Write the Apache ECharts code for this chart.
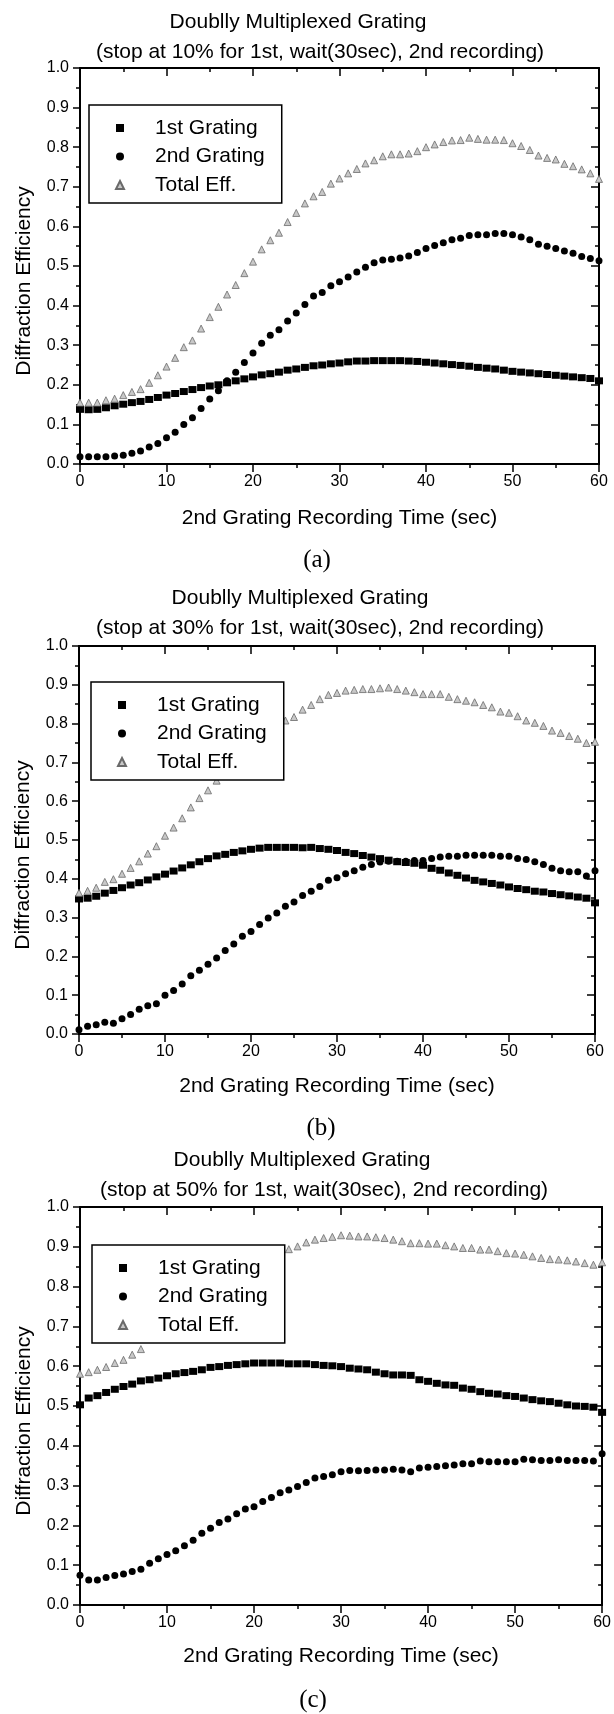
<!DOCTYPE html>
<html><head><meta charset="utf-8">
<script src="https://cdn.jsdelivr.net/npm/echarts@6/dist/echarts.min.js"></script>
<style>html,body{margin:0;padding:0;background:#fff}#c{width:614px;height:1714px}</style>
</head><body><div id="c"></div>
<script>
const timesSec = [0,1,2,3,4,5,6,7,8,9,10,11,12,13,14,15,16,17,18,19,20,21,22,23,24,25,26,27,28,29,30,
  31,32,33,34,35,36,37,38,39,40,41,42,43,44,45,46,47,48,49,50,51,52,53,54,55,56,57,58,59,60];
const seriesNames = ['1st Grating', '2nd Grating', 'Total Eff.'];
const yTickLabels = ['0.0','0.1','0.2','0.3','0.4','0.5','0.6','0.7','0.8','0.9','1.0'];

// (a) stop at 10%
const a1st = [0.138,0.137,0.138,0.142,0.147,0.151,0.155,0.158,0.163,0.168,
  0.174,0.178,0.183,0.188,0.193,0.197,0.200,0.205,0.210,0.215,
  0.220,0.225,0.228,0.232,0.237,0.240,0.244,0.248,0.250,0.253,
  0.255,0.258,0.260,0.260,0.261,0.261,0.261,0.261,0.260,0.259,
  0.257,0.255,0.253,0.251,0.249,0.247,0.244,0.242,0.240,0.237,
  0.234,0.232,0.230,0.228,0.226,0.224,0.222,0.220,0.218,0.216,0.210];
const a2nd = [0.018,0.018,0.018,0.018,0.020,0.022,0.027,0.033,0.043,0.052,
  0.066,0.080,0.100,0.117,0.140,0.164,0.185,0.210,0.232,0.256,
  0.280,0.305,0.325,0.339,0.361,0.381,0.403,0.424,0.433,0.450,
  0.460,0.472,0.485,0.497,0.508,0.515,0.517,0.520,0.525,0.534,
  0.544,0.552,0.559,0.566,0.570,0.577,0.579,0.579,0.582,0.582,
  0.579,0.573,0.566,0.555,0.550,0.544,0.538,0.532,0.524,0.519,0.513];
const aTotal = [0.155,0.155,0.155,0.161,0.165,0.174,0.182,0.189,0.205,0.224,
  0.246,0.268,0.295,0.312,0.342,0.371,0.397,0.428,0.452,0.482,
  0.511,0.542,0.565,0.584,0.611,0.634,0.658,0.676,0.687,0.708,
  0.721,0.734,0.745,0.759,0.767,0.777,0.782,0.782,0.784,0.790,
  0.800,0.807,0.813,0.817,0.818,0.824,0.821,0.819,0.819,0.818,
  0.810,0.803,0.793,0.779,0.773,0.769,0.758,0.752,0.744,0.734,0.720];

// (b) stop at 30%
const b1st = [0.348,0.350,0.355,0.363,0.370,0.377,0.384,0.390,0.397,0.405,
  0.412,0.420,0.428,0.436,0.444,0.452,0.459,0.463,0.468,0.472,
  0.476,0.479,0.481,0.481,0.481,0.481,0.480,0.481,0.478,0.476,
  0.473,0.468,0.465,0.460,0.456,0.452,0.448,0.444,0.442,0.440,
  0.435,0.427,0.422,0.415,0.409,0.402,0.396,0.392,0.388,0.384,
  0.379,0.375,0.372,0.368,0.366,0.362,0.359,0.356,0.353,0.350,0.338];
const b2nd = [0.011,0.020,0.024,0.030,0.028,0.039,0.050,0.064,0.073,0.078,
  0.100,0.112,0.129,0.150,0.164,0.180,0.196,0.215,0.232,0.252,
  0.264,0.282,0.299,0.312,0.329,0.340,0.357,0.368,0.380,0.396,
  0.403,0.413,0.421,0.430,0.437,0.443,0.445,0.445,0.445,0.447,
  0.447,0.452,0.456,0.458,0.458,0.461,0.461,0.461,0.461,0.458,
  0.458,0.452,0.450,0.444,0.437,0.427,0.421,0.418,0.418,0.407,0.421];
const bTotal = [0.364,0.369,0.377,0.392,0.399,0.413,0.428,0.445,0.465,0.484,
  0.511,0.532,0.556,0.584,0.608,0.628,0.653,0.678,0.700,0.724,
  0.740,0.761,0.780,0.793,0.808,0.817,0.836,0.848,0.863,0.874,
  0.879,0.885,0.887,0.889,0.889,0.891,0.893,0.889,0.885,0.881,
  0.876,0.876,0.876,0.869,0.863,0.859,0.855,0.848,0.842,0.831,
  0.828,0.819,0.808,0.802,0.794,0.782,0.776,0.768,0.761,0.750,0.753];

// (c) stop at 50%
const c1st = [0.503,0.520,0.526,0.534,0.542,0.549,0.555,0.563,0.566,0.570,
  0.576,0.581,0.584,0.587,0.591,0.597,0.599,0.602,0.604,0.606,
  0.608,0.608,0.608,0.608,0.606,0.606,0.606,0.604,0.602,0.601,
  0.599,0.595,0.593,0.591,0.585,0.581,0.578,0.578,0.577,0.566,
  0.562,0.557,0.553,0.552,0.545,0.542,0.536,0.532,0.530,0.526,
  0.524,0.520,0.516,0.513,0.511,0.507,0.503,0.500,0.499,0.497,0.484];
const c2nd = [0.075,0.063,0.063,0.069,0.074,0.078,0.084,0.090,0.105,0.116,
  0.127,0.136,0.149,0.163,0.180,0.193,0.207,0.216,0.229,0.241,
  0.247,0.260,0.270,0.282,0.289,0.298,0.308,0.319,0.323,0.327,
  0.335,0.338,0.337,0.338,0.339,0.339,0.341,0.339,0.335,0.344,
  0.346,0.348,0.350,0.352,0.355,0.355,0.362,0.360,0.360,0.360,
  0.360,0.366,0.365,0.363,0.363,0.365,0.363,0.363,0.363,0.362,0.380];
const cTotal = [0.581,0.585,0.591,0.598,0.608,0.616,0.629,0.643,0.671,0.686,
  0.703,0.717,0.733,0.750,0.771,0.790,0.806,0.818,0.833,0.847,
  0.855,0.868,0.878,0.890,0.894,0.901,0.911,0.918,0.922,0.925,
  0.929,0.928,0.926,0.926,0.924,0.922,0.918,0.914,0.909,0.909,
  0.908,0.908,0.904,0.901,0.897,0.897,0.893,0.893,0.889,0.884,
  0.883,0.880,0.876,0.872,0.869,0.868,0.866,0.863,0.859,0.855,0.861];

const titleLine1 = 'Doublly Multiplexed Grating';
const subtitles = ['(stop at 10% for 1st, wait(30sec), 2nd recording)',
                   '(stop at 30% for 1st, wait(30sec), 2nd recording)',
                   '(stop at 50% for 1st, wait(30sec), 2nd recording)'];
const panelTags = ['(a)', '(b)', '(c)'];
const xAxisName = '2nd Grating Recording Time (sec)';
const yAxisName = 'Diffraction Efficiency';

const FONT = '"Liberation Sans", Arial, sans-serif';
const SERIF = '"Liberation Serif", "Times New Roman", serif';

const panelData = [[a1st, a2nd, aTotal], [b1st, b2nd, bTotal], [c1st, c2nd, cTotal]];
const layout = [
  {grid:{left:80, top:68, width:519, height:396}, legend:{left:89, top:105}, xGap:44,
   t1:[298,22], t2:[320,52], tag:[317,560]},
  {grid:{left:79, top:646, width:516, height:388}, legend:{left:91, top:682}, xGap:42,
   t1:[300,598], t2:[320,628], tag:[321,1128]},
  {grid:{left:80, top:1207, width:524, height:398}, legend:{left:92, top:1245}, xGap:41,
   t1:[302,1160], t2:[324,1190], tag:[313,1700]}
];

const axisLineStyle = {color:'#000', width:2};
const tickStyle = {color:'#000', width:1.5};

const grid = [], xAxis = [], yAxis = [], series = [], legend = [], graphic = [];
const styles = [
  {symbol:'rect', symbolSize:[8,7], itemStyle:{color:'#000', opacity:1}},
  {symbol:'circle', symbolSize:7, itemStyle:{color:'#000', opacity:1}},
  {symbol:'triangle', symbolSize:7, itemStyle:{color:'#c8c8c8', borderColor:'#6a6a6a', borderWidth:0.8, opacity:1}}
];

layout.forEach((L, p) => {
  grid.push(Object.assign({containLabel:false, show:false}, L.grid));
  xAxis.push({type:'value', gridIndex:p, position:'bottom', min:0, max:60, interval:10,
    axisLine:{show:true, onZero:false, lineStyle:axisLineStyle},
    axisTick:{show:true, inside:false, length:8, lineStyle:tickStyle},
    minorTick:{show:true, splitNumber:2, length:4, lineStyle:tickStyle},
    axisLabel:{show:true, margin:10, fontSize:16, color:'#000', fontFamily:FONT},
    splitLine:{show:false}, minorSplitLine:{show:false},
    name:xAxisName, nameLocation:'middle', nameGap:L.xGap,
    nameTextStyle:{fontSize:21, color:'#000', fontFamily:FONT}});
  xAxis.push({type:'value', gridIndex:p, position:'top', min:0, max:60, interval:10,
    axisLine:{show:true, onZero:false, lineStyle:axisLineStyle},
    axisTick:{show:true, inside:true, length:8, lineStyle:tickStyle},
    minorTick:{show:true, splitNumber:2, length:4, lineStyle:tickStyle},
    axisLabel:{show:false}, splitLine:{show:false}, minorSplitLine:{show:false}});
  yAxis.push({type:'value', gridIndex:p, position:'left', min:0, max:1, interval:0.1,
    axisLine:{show:true, onZero:false, lineStyle:axisLineStyle},
    axisTick:{show:true, inside:false, length:7, lineStyle:tickStyle},
    minorTick:{show:true, splitNumber:2, length:4, lineStyle:tickStyle},
    axisLabel:{show:true, margin:11, fontSize:16, color:'#000', fontFamily:FONT,
      formatter: v => yTickLabels[Math.round(v * 10)]},
    splitLine:{show:false}, minorSplitLine:{show:false},
    name:yAxisName, nameLocation:'middle', nameGap:45, nameRotate:90,
    nameTextStyle:{fontSize:21, color:'#000', fontFamily:FONT, padding:[0,30,0,0]}});
  yAxis.push({type:'value', gridIndex:p, position:'right', min:0, max:1, interval:0.1,
    axisLine:{show:true, onZero:false, lineStyle:axisLineStyle},
    axisTick:{show:true, inside:true, length:8, lineStyle:tickStyle},
    minorTick:{show:true, splitNumber:2, length:4, lineStyle:tickStyle},
    axisLabel:{show:false}, splitLine:{show:false}, minorSplitLine:{show:false}});

  panelData[p].forEach((vals, s) => {
    series.push(Object.assign({
      type:'scatter', name:seriesNames[s], xAxisIndex:p*2, yAxisIndex:p*2, clip:false,
      silent:true, animation:false,
      data: timesSec.map((t, i) => [t, vals[i]])
    }, styles[s]));
  });

  legend.push({show:true, orient:'vertical', left:L.legend.left, top:L.legend.top,
    padding:[12,17,7,26], itemGap:6.5, itemWidth:8, itemHeight:8,
    backgroundColor:'#fff', borderColor:'#000', borderWidth:1.5, borderRadius:0,
    selectedMode:false, data:seriesNames.slice(),
    formatter: n => '{g|}' + n,
    textStyle:{fontSize:21, lineHeight:22, color:'#000', fontFamily:FONT,
      rich:{g:{width:26, fontSize:21, lineHeight:22}}}});

  graphic.push({type:'text', x:L.t1[0], y:L.t1[1], silent:true,
    style:{text:titleLine1, fontSize:21, fontFamily:FONT, fill:'#000', align:'center', verticalAlign:'middle'}});
  graphic.push({type:'text', x:L.t2[0], y:L.t2[1], silent:true,
    style:{text:subtitles[p], fontSize:21, fontFamily:FONT, fill:'#000', align:'center', verticalAlign:'middle'}});
  graphic.push({type:'text', x:L.tag[0], y:L.tag[1], silent:true,
    style:{text:panelTags[p], fontSize:25, fontFamily:SERIF, fill:'#000', align:'center', verticalAlign:'middle'}});
});

const chart = echarts.init(document.getElementById('c'), null, {renderer:'canvas'});
chart.setOption({animation:false, backgroundColor:'#fff', grid, xAxis, yAxis, series, legend, graphic});
</script></body></html>
